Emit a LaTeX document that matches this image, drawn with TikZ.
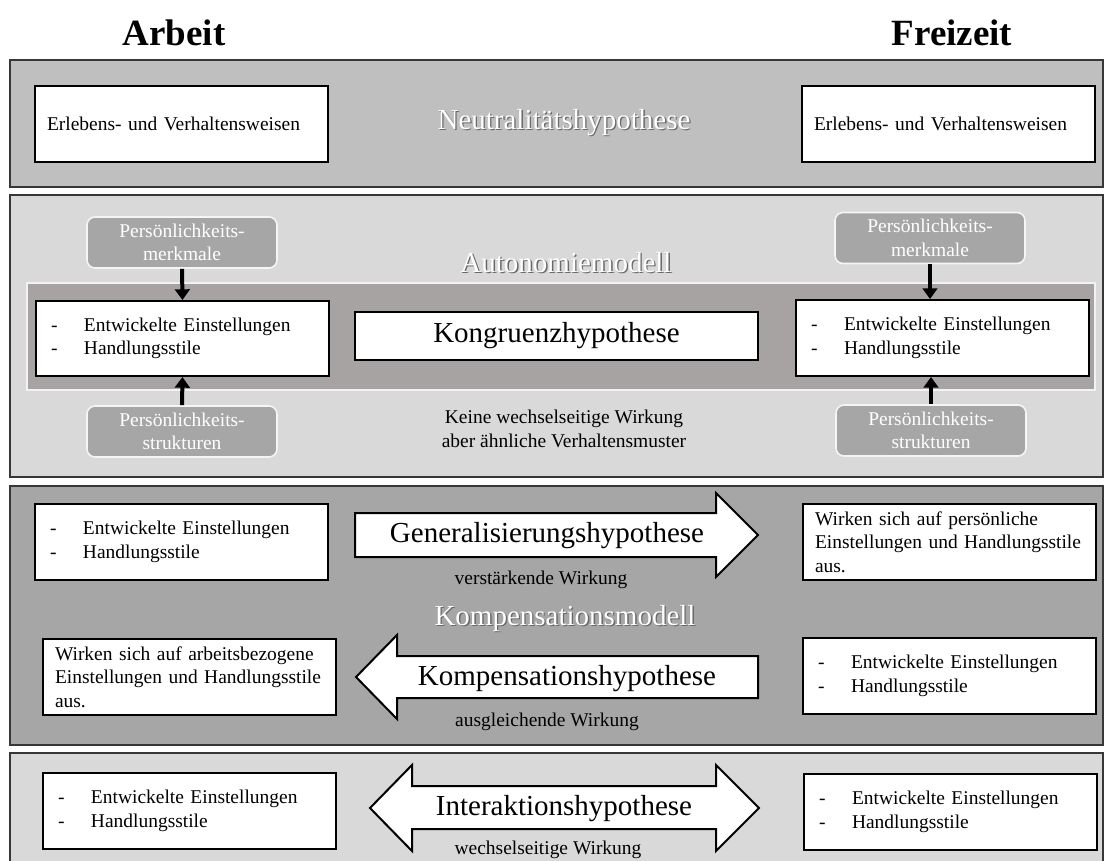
\documentclass[tikz,border=0pt]{standalone}
\usepackage{fontspec}
\setmainfont{Liberation Serif}
\usepackage{tikz}
\usetikzlibrary{positioning,arrows.meta}
\usepackage{xcolor}

\definecolor{hellgrau}{RGB}{217,217,217}
\definecolor{mittelgrau}{RGB}{191,191,191}
\definecolor{dunkelgrau}{RGB}{166,166,166}
\definecolor{bandgrau}{RGB}{168,163,163}
\definecolor{rahmen}{RGB}{55,55,55}
\definecolor{schatten}{RGB}{105,105,105}

\newcommand{\schrift}{\fontsize{14.6}{17.6}\selectfont}
\newcommand{\gross}{\fontsize{21.75}{26}\selectfont}
\newcommand{\titel}{\fontsize{27.75}{33}\selectfont\bfseries}
\newcommand{\hell}[1]{\makebox[0pt][l]{\hspace{1pt}\raisebox{-1pt}{\textcolor{schatten}{#1}}}\textcolor{white}{#1}}
\newcommand{\strich}{\makebox[27pt][l]{\hspace{2.25pt}-}}
\newcommand{\einst}{\strich Entwickelte Einstellungen\\\strich Handlungsstile}

\begin{document}
\begin{tikzpicture}[x=0.75pt, y=-0.75pt,
			panel/.style={draw=rahmen, line width=1.5pt},
			box/.style={draw=black, line width=1.5pt, fill=white, rectangle, anchor=north west, align=left, inner xsep=9pt, inner ysep=0pt, text width=201.75pt, minimum width=219.75pt, minimum height=57pt, font=\schrift},
			merkmal/.style={draw=white!92!gray, line width=1.2pt, fill=dunkelgrau, rounded corners=6pt, minimum width=142.5pt, minimum height=38.25pt, align=center, inner sep=0pt, font=\schrift, text=white},
			hyp/.style={font=\gross, inner sep=0pt},
			modell/.style={font=\gross, inner sep=0pt},
			klein/.style={font=\schrift, inner sep=0pt, align=center},
			blockpfeil/.style={draw=black, line width=1.5pt, fill=white, line join=miter},
			pfeil/.style={line width=3pt, -{Triangle[length=8pt, width=11pt]}}
		]
		\useasboundingbox (0,0) rectangle (1105,860);

		% Ueberschriften
		\node[font=\titel] (arbeit) at (174,33) {Arbeit};
		\node[font=\titel] (freizeit) at (952,33) {Freizeit};

		% Neutralitaetshypothese
		\draw[panel, fill=mittelgrau] (10,60) rectangle (1103,187);
		\node[box] (erlA) at (34,85) {Erlebens- und Verhaltensweisen};
		\node[box] (erlB) at (801,85) {Erlebens- und Verhaltensweisen};
		\node[modell] (neutral) at (564,123) {\hell{Neutralitätshypothese}};

		% Autonomiemodell
		\draw[panel, fill=hellgrau] (10,195) rectangle (1103,477);
		\draw[draw=white!90!gray, line width=1pt, fill=bandgrau] (27,283) rectangle (1095,390);
		\node[modell] (autonom) at (566,263) {\hell{Autonomiemodell}};
		\node[box, minimum height=56.25pt] (einstA) at (35,300) {\einst};
		\node[box, minimum height=57pt] (einstB) at (795,299) {\einst};
		\node[draw=black, line width=1.5pt, fill=white, minimum width=302.25pt, minimum height=36pt, font=\gross] (kongruenz) at (556.5,336) {Kongruenzhypothese};
		\node[merkmal] (merkA) at (182,242.5) {Persönlichkeits-\\merkmale};
		\node[merkmal] (merkB) at (930,238) {Persönlichkeits-\\merkmale};
		\node[merkmal] (strukA) at (182,431.5) {Persönlichkeits-\\strukturen};
		\node[merkmal] (strukB) at (931,430.5) {Persönlichkeits-\\strukturen};
		\draw[pfeil] (merkA.south) -- (einstA.north);
		\draw[pfeil] (merkB.south) -- (merkB.south |- einstB.north);
		\draw[pfeil] (strukA.north) -- (einstA.south);
		\draw[pfeil] (strukB.north) -- (strukB.north |- einstB.south);
		\node[klein] (keine) at (564,429) {Keine wechselseitige Wirkung\\aber ähnliche Verhaltensmuster};

		% Kompensationsmodell
		\draw[panel, fill=dunkelgrau] (10,486) rectangle (1103,745);
		\node[box] (einstC) at (34,503) {\einst};
		\node[box] (wirkB) at (802,503) {Wirken sich auf persönliche\\Einstellungen und Handlungsstile\\aus.};
		\draw[blockpfeil] (355,513) -- (716,513) -- (716,493) -- (758,535) -- (716,577) -- (716,557) -- (355,557) -- cycle;
		\node[hyp] (general) at (547,536) {Generalisierungshypothese};
		\node[klein] (verst) at (541,580) {verstärkende Wirkung};
		\node[modell] (kompmod) at (565,619) {\hell{Kompensationsmodell}};
		\node[box] (wirkA) at (42,638) {Wirken sich auf arbeitsbezogene\\Einstellungen und Handlungsstile\\aus.};
		\node[box] (einstD) at (802,637) {\einst};
		\draw[blockpfeil] (758,656) -- (397,656) -- (397,635) -- (356,677) -- (397,719) -- (397,698) -- (758,698) -- cycle;
		\node[hyp] (kompens) at (567,679) {Kompensationshypothese};
		\node[klein] (ausgl) at (547,722) {ausgleichende Wirkung};

		% Interaktionshypothese
		\draw[panel, fill=hellgrau] (10,753) rectangle (1103,880);
		\node[box] (einstE) at (42,772) {\einst};
		\node[box] (einstF) at (803,773) {\einst};
		\draw[blockpfeil] (412,786) -- (716,786) -- (716,765) -- (759,808) -- (716,851) -- (716,829) -- (412,829) -- (412,851) -- (370,808) -- (412,765) -- cycle;
		\node[hyp] (interakt) at (564,809) {Interaktionshypothese};
		\node[klein] (wechsel) at (548,850) {wechselseitige Wirkung};
	\end{tikzpicture}
\end{document}
